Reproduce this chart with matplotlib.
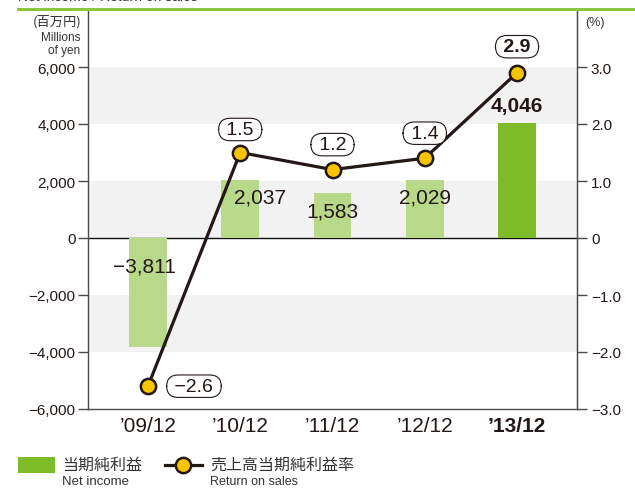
import matplotlib
matplotlib.use('Agg')
import matplotlib.pyplot as plt
from matplotlib.lines import Line2D
from matplotlib.patches import Rectangle
import numpy as np

plt.rcParams['font.family'] = ['Liberation Sans', 'Noto Sans CJK JP', 'DejaVu Sans']

years = ["\u201909/12", "\u201910/12", "\u201911/12", "\u201912/12", "\u201913/12"]
net_income = [-3811, 2037, 1583, 2029, 4046]
net_income_labels = ["\u22123,811", "2,037", "1,583", "2,029", "4,046"]
return_on_sales = [-2.6, 1.5, 1.2, 1.4, 2.9]
ros_labels = ["\u22122.6", "1.5", "1.2", "1.4", "2.9"]
left_ticks = [-6000, -4000, -2000, 0, 2000, 4000, 6000]
left_ticklabels = ["\u22126,000", "\u22124,000", "\u22122,000", "0", "2,000", "4,000", "6,000"]
right_ticks = [-3.0, -2.0, -1.0, 0, 1.0, 2.0, 3.0]
right_ticklabels = ["\u22123.0", "\u22122.0", "\u22121.0", "0", "1.0", "2.0", "3.0"]

light_green = '#b8d98a'
dark_green = '#7dbb28'
line_col = '#231815'
spine_col = '#4a4a4a'

fig = plt.figure(figsize=(6.35, 4.89), dpi=100)
ax = fig.add_axes([88/635, 1-410/489, 489/635, 400/489])
ymax = 6000 + 58/28.5*1000
ax.set_ylim(-6000, ymax)
ax.set_xlim(-0.65, 4.65)

# background bands
for lo, hi in [(4000, 6000), (0, 2000), (-4000, -2000)]:
    ax.axhspan(lo, hi, color='#f2f2f2', lw=0, zorder=0)
ax.axhline(0, color='#111111', lw=1.0, zorder=1)

x = np.arange(len(years))
colors = [light_green]*4 + [dark_green]
ax.bar(x, net_income, width=0.41, color=colors, zorder=2)

# bar value labels
bar_off = [(-4, -28), (20, -17), (0, -18), (0, -17), (0, 17)]
for i, (v, lab) in enumerate(zip(net_income, net_income_labels)):
    base = 0 if v < 0 else v
    ax.annotate(lab, (x[i], base), xytext=bar_off[i], textcoords='offset pixels',
                ha='center', va='center', fontsize=15, color='#231815',
                fontweight='bold' if i == 4 else 'normal', zorder=5)

ax.spines['top'].set_visible(False)
for s in ['left', 'right', 'bottom']:
    ax.spines[s].set_color(spine_col)
    ax.spines[s].set_linewidth(1.0)

ax.set_yticks(left_ticks)
ax.set_yticklabels(left_ticklabels, fontsize=11)
ax.tick_params(axis='y', direction='out', length=7, width=1.0, color=spine_col, pad=2,
               labelcolor='#231815')
ax.set_xticks(x)
ax.set_xticklabels(years, fontsize=15, color='#231815')
ax.get_xticklabels()[-1].set_fontweight('bold')
ax.tick_params(axis='x', length=0, pad=5)

ax2 = ax.twinx()
ax2.set_ylim(-3.0, ymax/2000)
ax2.spines['top'].set_visible(False)
ax2.spines['left'].set_visible(False)
ax2.spines['bottom'].set_visible(False)
ax2.spines['right'].set_color(spine_col)
ax2.set_yticks(right_ticks)
ax2.set_yticklabels(right_ticklabels, fontsize=11)
ax2.tick_params(axis='y', direction='out', length=7, width=1.0, color=spine_col, pad=3,
                labelcolor='#231815')

ax2.plot(x, return_on_sales, color=line_col, lw=2.3, marker='o', markersize=11,
         markerfacecolor='#f7c500', markeredgecolor=line_col, markeredgewidth=1.8,
         zorder=4, clip_on=False)

ros_off = [(46, 0), (0, 23), (0, 25), (0, 25), (0, 26)]
for i, (v, lab) in enumerate(zip(return_on_sales, ros_labels)):
    ax2.annotate(' ' + lab + ' ', (x[i], v), xytext=ros_off[i], textcoords='offset pixels',
                 ha='center', va='center', fontsize=14, color='#231815',
                 fontweight='bold' if i == 4 else 'normal',
                 bbox=dict(boxstyle='round,pad=0.14,rounding_size=0.6', fc='white',
                           ec='#231815', lw=0.8), zorder=6)

# axis unit labels
fig.text(82/635, 1-22/489, '(百万円)', ha='right', va='center', fontsize=9.5, color='#333333',
         family=['Noto Sans CJK JP', 'DejaVu Sans'])
fig.text(80/635, 1-38/489, 'Millions', ha='right', va='center', fontsize=8.5, color='#333333')
fig.text(80/635, 1-51/489, 'of yen', ha='right', va='center', fontsize=8.5, color='#333333')
fig.text(585/635, 1-23/489, '(%)', ha='left', va='center', fontsize=9, color='#333333')

# top title (cut off in the original) and green rule
fig.text(18/635, 1.007, 'Net income / Return on sales', ha='left', va='center', fontsize=10,
         color='#333333')
fig.add_artist(Line2D([18/635, 1], [1-10/489, 1-10/489], color='#8cc63f', lw=2.2))

# legend
fig.add_artist(Rectangle((18/635, 1-474/489), 37/635, 16/489, color=dark_green, lw=0))
fig.text(62/635, 1-465/489, '当期純利益', ha='left', va='center', fontsize=11.5, color='#333333',
         family=['Noto Sans CJK JP', 'DejaVu Sans'])
fig.text(62/635, 1-482/489, 'Net income', ha='left', va='center', fontsize=9.5, color='#333333')
fig.add_artist(Line2D([165/635, 202/635], [1-466/489, 1-466/489], color=line_col, lw=2.3,
                      zorder=3))
fig.add_artist(Line2D([183.5/635], [1-466/489], color=line_col, marker='o', markersize=11,
                      markerfacecolor='#f7c500', markeredgecolor=line_col, markeredgewidth=1.8,
                      lw=0, zorder=4))
fig.text(210/635, 1-465/489, '売上高当期純利益率', ha='left', va='center', fontsize=11.5,
         color='#333333', family=['Noto Sans CJK JP', 'DejaVu Sans'])
fig.text(210/635, 1-482/489, 'Return on sales', ha='left', va='center', fontsize=9,
         color='#333333')

fig.savefig('out.png', dpi=100)
